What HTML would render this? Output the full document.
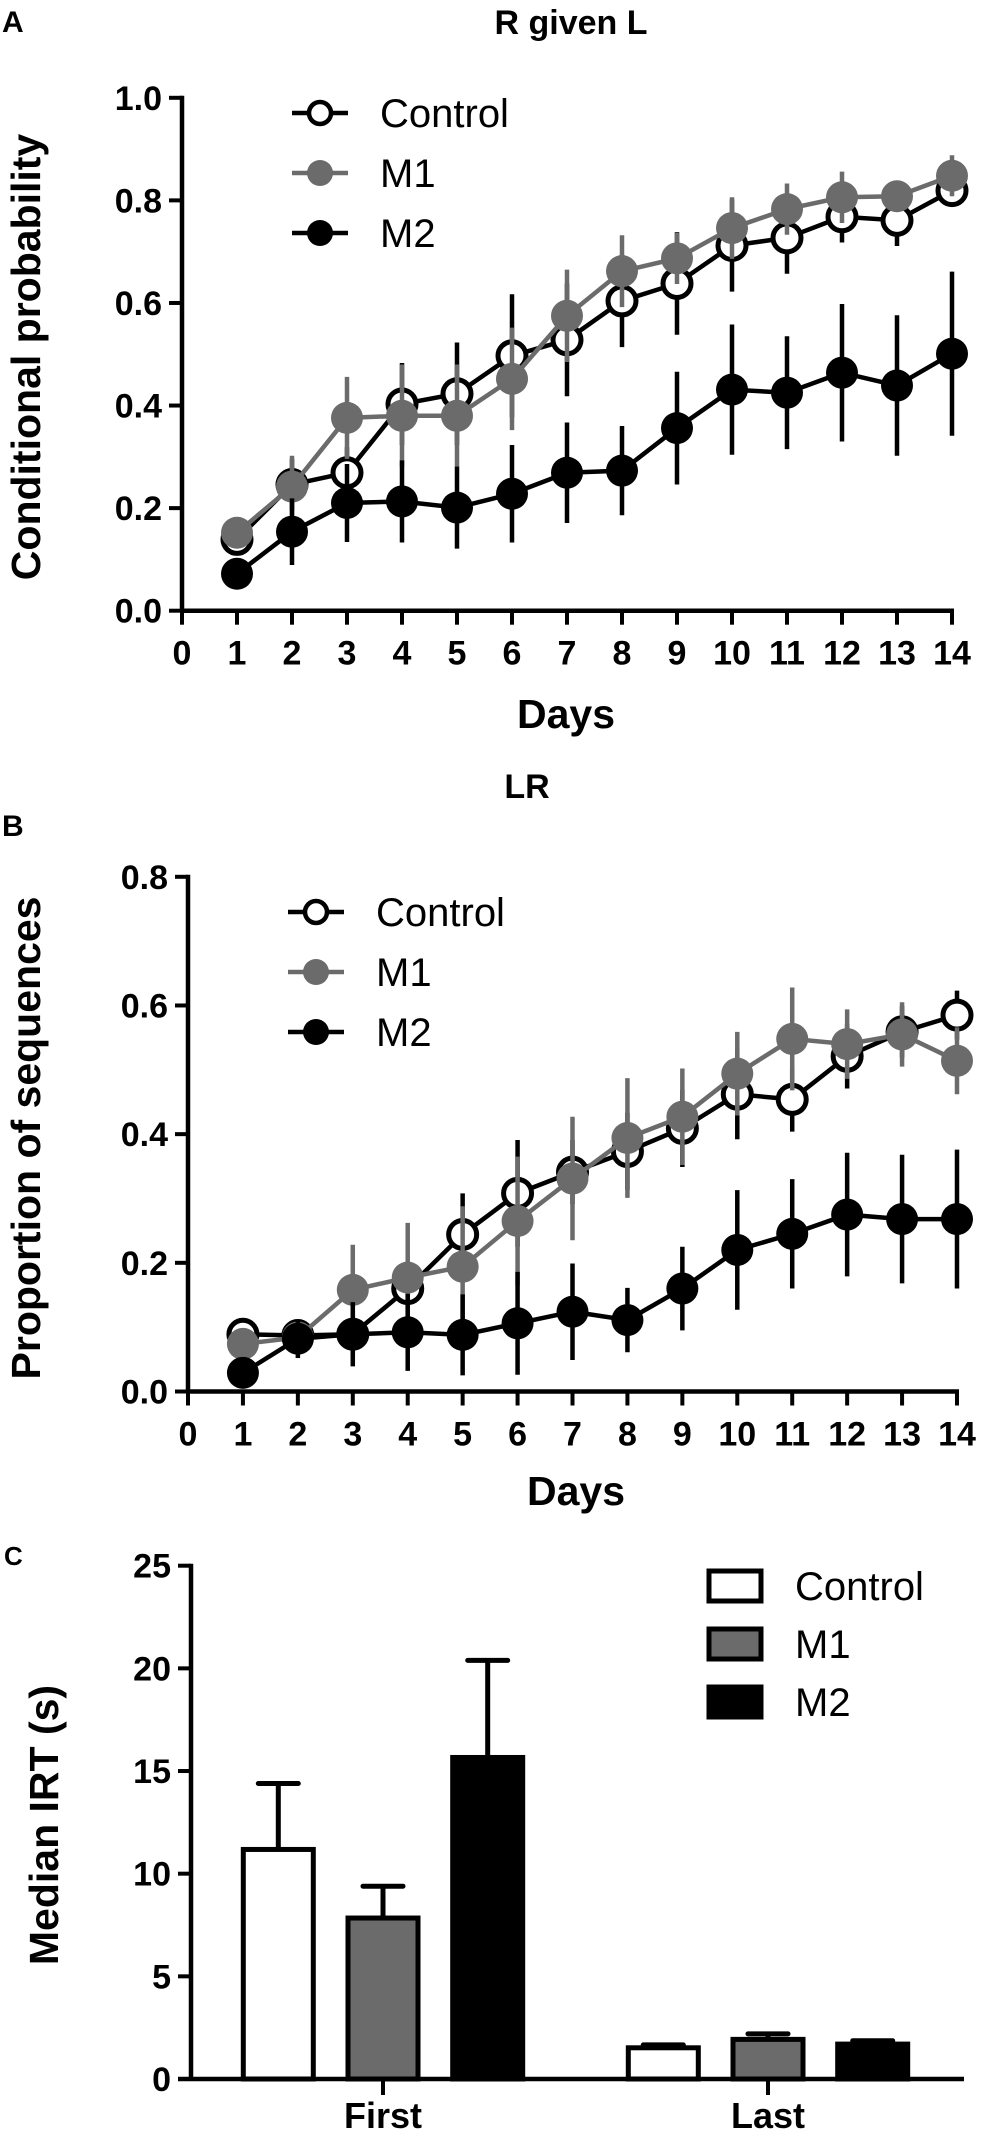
<!DOCTYPE html>
<html><head><meta charset="utf-8"><style>
html,body{margin:0;padding:0;background:#fff;}
svg{display:block;font-family:"Liberation Sans",Arial,sans-serif;}
</style></head><body>
<svg id="fig" width="981" height="2132" viewBox="0 0 981 2132" xmlns="http://www.w3.org/2000/svg">
<text x="2" y="32" font-size="30" font-weight="bold">A</text>
<text x="571" y="34" font-size="34" font-weight="bold" text-anchor="middle">R given L</text>
<text x="527" y="798" font-size="34" font-weight="bold" text-anchor="middle">LR</text>
<text x="2" y="836" font-size="30" font-weight="bold">B</text>
<text x="4" y="1565" font-size="26" font-weight="bold">C</text>
<g id="gA"></g>
<g id="gB"></g>
<g id="gC"></g>
</svg>
<script>
const days = [1,2,3,4,5,6,7,8,9,10,11,12,13,14];
const seriesNames = ["Control","M1","M2"];
// Panel A: R given L
const aControl = [0.139,0.246,0.269,0.403,0.423,0.497,0.528,0.604,0.638,0.712,0.727,0.768,0.761,0.819];
const aControlErr = [0.03,0.05,0.05,0.08,0.10,0.12,0.11,0.09,0.10,0.09,0.07,0.05,0.05,0.03];
const aM1 = [0.152,0.242,0.376,0.380,0.380,0.452,0.575,0.662,0.687,0.746,0.783,0.806,0.808,0.848];
const aM1Err = [0.02,0.06,0.08,0.10,0.10,0.10,0.09,0.07,0.05,0.06,0.05,0.05,0.03,0.04];
const aM2 = [0.072,0.154,0.210,0.213,0.201,0.228,0.269,0.273,0.356,0.431,0.425,0.464,0.439,0.501];
const aM2Err = [0.03,0.065,0.076,0.08,0.08,0.095,0.098,0.087,0.11,0.127,0.11,0.134,0.137,0.16];
const aTicks = ["0.0","0.2","0.4","0.6","0.8","1.0"];
// Panel B: LR
const bControl = [0.089,0.087,0.089,0.160,0.244,0.308,0.341,0.373,0.409,0.462,0.454,0.521,0.559,0.585];
const bControlErr = [0.01,0.02,0.03,0.03,0.064,0.083,0.05,0.06,0.06,0.07,0.05,0.05,0.04,0.038];
const bM1 = [0.074,0.084,0.158,0.177,0.194,0.265,0.331,0.394,0.427,0.494,0.548,0.540,0.555,0.514];
const bM1Err = [0.01,0.01,0.07,0.085,0.094,0.10,0.096,0.093,0.075,0.065,0.08,0.054,0.05,0.052];
const bM2 = [0.029,0.082,0.089,0.092,0.088,0.106,0.124,0.111,0.160,0.220,0.245,0.275,0.268,0.268];
const bM2Err = [0,0.03,0.05,0.06,0.063,0.08,0.075,0.05,0.065,0.093,0.085,0.096,0.10,0.108];
const bTicks = ["0.0","0.2","0.4","0.6","0.8"];
// Panel C: Median IRT
const cGroups = ["First","Last"];
const cControl = [11.18,1.52];
const cControlErr = [3.21,0.14];
const cM1 = [7.84,1.93];
const cM1Err = [1.55,0.27];
const cM2 = [15.66,1.70];
const cM2Err = [4.73,0.16];
const cTicks = ["0","5","10","15","20","25"];

const NS="http://www.w3.org/2000/svg";
function mk(parent, tag, attrs){const e=document.createElementNS(NS,tag);for(const k in attrs)e.setAttribute(k,attrs[k]);parent.appendChild(e);return e;}
const GRAY="#6b6b6b";

function linePanel(g, cfg){
  const x = d => cfg.x0 + (cfg.x1-cfg.x0)*d/14;
  const y = v => cfg.y0 - (cfg.y0-cfg.yTop)*v/cfg.vmax;
  // axes
  const ya=mk(g,"line",{x1:cfg.x0,y1:cfg.yTop-2,x2:cfg.x0,y2:cfg.y0,stroke:"#000","stroke-width":4.5});
  
  
  const xa=mk(g,"line",{x1:cfg.x0-2,y1:cfg.y0,x2:cfg.x1+2,y2:cfg.y0,stroke:"#000","stroke-width":4.5});
  
  
  cfg.ticks.forEach((t,i)=>{
    const v = i*cfg.step, yy=y(v);
    mk(g,"line",{x1:cfg.x0-13,y1:yy,x2:cfg.x0,y2:yy,stroke:"#000","stroke-width":4});
    const tx=mk(g,"text",{x:cfg.x0-20,y:yy+12,"font-size":34,"font-weight":"bold","text-anchor":"end"});
    tx.textContent=t;
    
    
  });
  for(let d=0; d<=14; d++){
    mk(g,"line",{x1:x(d),y1:cfg.y0,x2:x(d),y2:cfg.y0+14,stroke:"#000","stroke-width":4});
    const tx=mk(g,"text",{x:x(d),y:cfg.y0+54,"font-size":34,"font-weight":"bold","text-anchor":"middle"});
    tx.textContent=String(d);
    
    
  }
  const xt=mk(g,"text",{x:cfg.xTitleX,y:cfg.xTitleY,"font-size":41,"font-weight":"bold","text-anchor":"middle"});
  xt.textContent="Days";
  
  
  const yt=mk(g,"text",{x:0,y:0,"font-size":41,"font-weight":"bold","text-anchor":"middle",transform:`translate(${cfg.yTitleX},${cfg.yTitleY}) rotate(-90)`});
  yt.textContent=cfg.yTitle;
  
  
  const series=[[cfg.ctrl,cfg.ctrlErr,"#000",false],[cfg.m1,cfg.m1Err,GRAY,true],[cfg.m2,cfg.m2Err,"#000",true]];
  series.forEach((s,si)=>{
    const sg=mk(g,"g",{});
    
    
    const [vals,errs,col,filled]=s;
    days.forEach((d,i)=>{
      if(errs[i]>0){
        const eb=mk(sg,"line",{x1:x(d),y1:y(vals[i]-errs[i]),x2:x(d),y2:y(vals[i]+errs[i]),stroke:col,"stroke-width":4.5});
        
        
      }
    });
    const pts=days.map((d,i)=>x(d)+","+y(vals[i])).join(" ");
    const pl=mk(sg,"polyline",{points:pts,fill:"none",stroke:col,"stroke-width":4.5});
    
    
    days.forEach((d,i)=>{
      const c = filled ? mk(sg,"circle",{cx:x(d),cy:y(vals[i]),r:16,fill:col}) :
        mk(sg,"circle",{cx:x(d),cy:y(vals[i]),r:14,fill:"#fff",stroke:col,"stroke-width":5});
      
      
    });
  });
  // legend
  const cols=["#000",GRAY,"#000"];
  seriesNames.forEach((n,i)=>{
    const lg=mk(g,"g",{});
    
    
    const ly=cfg.legY+i*60;
    mk(lg,"line",{x1:cfg.legX-28,y1:ly,x2:cfg.legX+28,y2:ly,stroke:cols[i],"stroke-width":4.5});
    if(i==0) mk(lg,"circle",{cx:cfg.legX,cy:ly,r:11,fill:"#fff",stroke:"#000","stroke-width":4.5});
    else mk(lg,"circle",{cx:cfg.legX,cy:ly,r:13,fill:cols[i]});
    const t=mk(lg,"text",{x:cfg.legX+60,y:ly+14,"font-size":40});
    t.textContent=n;
  });
}

linePanel(document.getElementById("gA"),{x0:182,x1:952,y0:610.7,yTop:97.8,vmax:1.0,step:0.2,ticks:aTicks,
  ctrl:aControl,ctrlErr:aControlErr,m1:aM1,m1Err:aM1Err,m2:aM2,m2Err:aM2Err,
  xTitleX:566,xTitleY:728,yTitleX:40,yTitleY:357,yTitle:"Conditional probability",legX:320,legY:113});
linePanel(document.getElementById("gB"),{x0:188,x1:957,y0:1391.5,yTop:876.8,vmax:0.8,step:0.2,ticks:bTicks,
  ctrl:bControl,ctrlErr:bControlErr,m1:bM1,m1Err:bM1Err,m2:bM2,m2Err:bM2Err,
  xTitleX:576,xTitleY:1505,yTitleX:40,yTitleY:1138,yTitle:"Proportion of sequences",legX:316,legY:912});

// Panel C
(function(){
  const g=document.getElementById("gC");
  const x0=191, y0=2079, yTop=1565.7, vmax=25;
  const y=v=>y0-(y0-yTop)*v/vmax;
  const groupCenters=[383,768], barW=70, barSp=104.7;
  const ya=mk(g,"line",{x1:x0,y1:yTop-2,x2:x0,y2:y0,stroke:"#000","stroke-width":4.5});
  
  
  const xa=mk(g,"line",{x1:178,y1:y0,x2:964,y2:y0,stroke:"#000","stroke-width":4.5});
  
  
  cTicks.forEach((t,i)=>{
    const yy=y(i*5);
    mk(g,"line",{x1:x0-13,y1:yy,x2:x0,y2:yy,stroke:"#000","stroke-width":4});
    const tx=mk(g,"text",{x:x0-20,y:yy+12,"font-size":34,"font-weight":"bold","text-anchor":"end"});
    tx.textContent=t;
    
    
  });
  const yt=mk(g,"text",{x:0,y:0,"font-size":41,"font-weight":"bold","text-anchor":"middle",transform:"translate(58,1825) rotate(-90)"});
  yt.textContent="Median IRT (s)";
  
  
  const sets=[[cControl,cControlErr,"#fff"],[cM1,cM1Err,GRAY],[cM2,cM2Err,"#000"]];
  cGroups.forEach((gn,gi)=>{
    const cx=groupCenters[gi];
    mk(g,"line",{x1:cx,y1:y0,x2:cx,y2:y0+16,stroke:"#000","stroke-width":4});
    const lt=mk(g,"text",{x:cx,y:2128,"font-size":36,"font-weight":"bold","text-anchor":"middle"});
    lt.textContent=gn;
    
    
    sets.forEach((s,si)=>{
      const bc=cx+(si-1)*barSp;
      const v=s[0][gi], e=s[1][gi];
      const eb=mk(g,"path",{d:`M${bc},${y(v)} V${y(v+e)} M${bc-20},${y(v+e)} H${bc+20}`,stroke:"#000","stroke-width":5,fill:"none","stroke-linecap":"round"});
      
      
      const r=mk(g,"rect",{x:bc-barW/2,y:y(v),width:barW,height:y0-y(v),fill:s[2],stroke:"#000","stroke-width":5});
      
      
    });
  });
  const fills=["#fff",GRAY,"#000"];
  seriesNames.forEach((n,i)=>{
    const lg=mk(g,"g",{});
    
    
    const ly=1586+i*58;
    mk(lg,"rect",{x:709,y:ly-15,width:52,height:30,fill:fills[i],stroke:"#000","stroke-width":5});
    const t=mk(lg,"text",{x:795,y:ly+14,"font-size":40});
    t.textContent=n;
  });
})();
</script>
</body></html>
